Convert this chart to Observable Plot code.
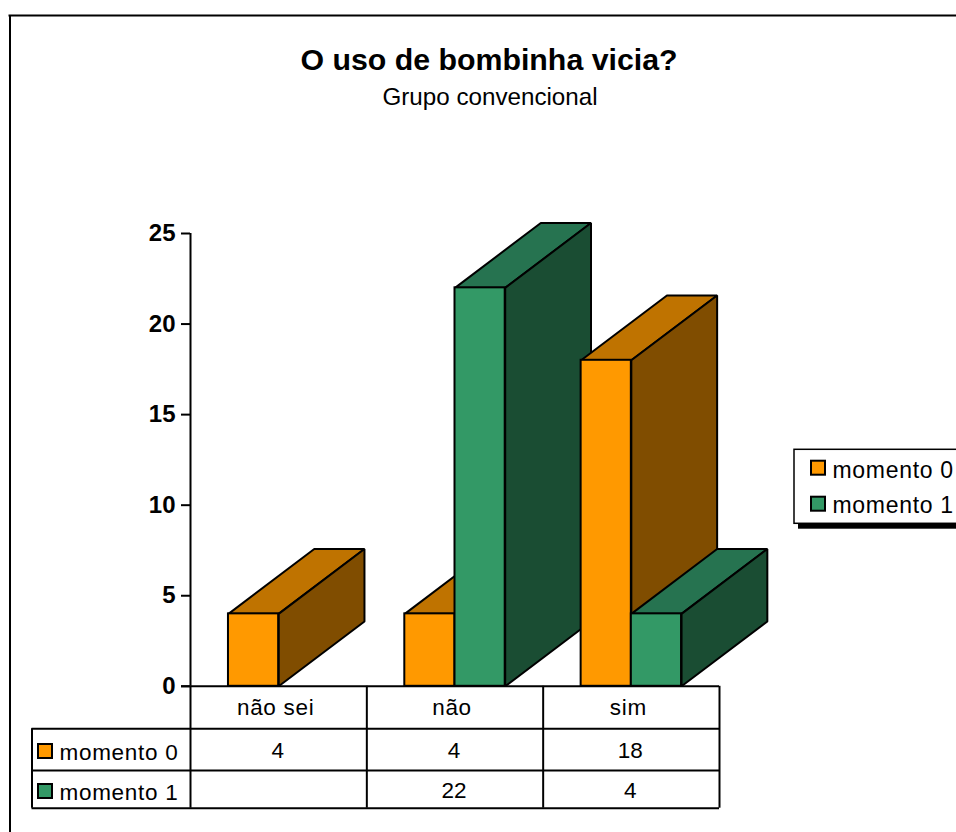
<!DOCTYPE html>
<html lang="pt">
<head>
<meta charset="utf-8">
<title>O uso de bombinha vicia?</title>
<script src="https://cdn.jsdelivr.net/npm/d3@7"></script>
<script src="https://cdn.jsdelivr.net/npm/@observablehq/plot@0.6"></script>
<style>
  html, body { margin: 0; padding: 0; background: #fff; overflow: hidden; }
  #chart svg { display: block; max-width: none; }
  .spaced text { letter-spacing: 0.7px; }
</style>
</head>
<body>
<div id="chart"></div>
<script>
// Survey answers per moment of the conventional group
const categories = ["não sei", "não", "sim"];
const seriesNames = ["momento 0", "momento 1"];
const momento0 = [4, 4, 18];
const momento1 = [null, 22, 4];
const yTicks = [0, 5, 10, 15, 20, 25];

const frontColors = ["#FF9900", "#339966"];
const topColors = ["#BF7300", "#267350"];
const sideColors = ["#804D00", "#1A4D33"];

const W = 956, H = 832;
const margin = {top: 233, right: 237, bottom: 146.2, left: 190};
const unitX = (W - margin.left - margin.right) / categories.length;
const unitY = (H - margin.top - margin.bottom) / 25;

// Layout helpers: page pixels expressed in scale units, for the table and legend furniture
const X = (px) => (px - margin.left) / unitX;
const Y = (px) => (H - margin.bottom - px) / unitY;

// Bar footprint and oblique depth of the 3D extrusion, in scale units
const barWidth = 50.2 / unitX;
const depthX = 85.8 / unitX;
const depthY = 64.8 / unitY;

const ink = "#000";
const font = "Liberation Sans, Arial, sans-serif";

function barMarks(catIndex, seriesIndex, value) {
  if (value == null) return [];
  const x1 = catIndex + 0.5 + (seriesIndex - 1) * barWidth;
  const x2 = x1 + barWidth;
  const topFace = [
    {x: x1, y: value}, {x: x2, y: value},
    {x: x2 + depthX, y: value + depthY}, {x: x1 + depthX, y: value + depthY}
  ];
  const sideFace = [
    {x: x2, y: 0}, {x: x2, y: value},
    {x: x2 + depthX, y: value + depthY}, {x: x2 + depthX, y: depthY}
  ];
  const face = (points, fill) => Plot.line(points, {
    x: "x", y: "y", fill, stroke: ink, strokeWidth: 2, curve: "linear-closed", strokeLinejoin: "miter"
  });
  return [
    face(topFace, topColors[seriesIndex]),
    face(sideFace, sideColors[seriesIndex]),
    Plot.rect([{x1, x2, y1: 0, y2: value}], {
      x1: "x1", x2: "x2", y1: "y1", y2: "y2",
      fill: frontColors[seriesIndex], stroke: ink, strokeWidth: 2
    })
  ];
}

const bars = categories.flatMap((_, i) => [
  ...barMarks(i, 0, momento0[i]),
  ...barMarks(i, 1, momento1[i])
]);

// Data table grid underneath the plot
const tableRows = [728.3, 770, 807.7];
const tableEdges = [1, 2, 3];
const tableGrid = [
  Plot.ruleY([0], {x1: X(181), x2: 3, stroke: ink, strokeWidth: 2}),
  Plot.ruleY(tableRows.map(Y), {x1: X(31.5), x2: 3, stroke: ink, strokeWidth: 2}),
  Plot.ruleX(tableEdges, {y1: 0, y2: Y(807.7), stroke: ink, strokeWidth: 2}),
  Plot.ruleX([0], {y1: 0, y2: Y(807.7), stroke: ink, strokeWidth: 2}),
  Plot.ruleX([X(31.5)], {y1: Y(728.3), y2: Y(807.7), stroke: ink, strokeWidth: 2})
];

const cellText = (rows, y) => Plot.text(rows, {
  x: (_, i) => i + 0.5, y: Y(y), dx: -1,
  text: (d) => (d == null ? "" : String(d)),
  fontSize: 22.5, fill: "#000", fontFamily: font
});

const tableText = [
  Plot.text(categories, {
    x: (_, i) => i + 0.5, y: Y(707), dx: -3, text: (d) => d,
    fontSize: 22.5, fill: "#000", fontFamily: font, className: "spaced"
  }),
  cellText(momento0, 750),
  cellText(momento1, 790),
  Plot.text(seriesNames, {
    x: X(59), y: (_, i) => Y([752, 792][i]), text: (d) => d,
    textAnchor: "start", fontSize: 22.5, fill: "#000", fontFamily: font, className: "spaced"
  })
];

const swatch = (px, py, i) => Plot.rect([i], {
  x1: X(px), x2: X(px + 14), y1: Y(py + 14), y2: Y(py),
  fill: frontColors[i], stroke: ink, strokeWidth: 2
});

// Legend box with its drop shadow, running past the right edge
const legend = [
  Plot.rect([0], {x1: X(798), x2: X(960), y1: Y(528.7), y2: Y(453), fill: "#000"}),
  Plot.rect([0], {x1: X(794), x2: X(960), y1: Y(523.3), y2: Y(449.3), fill: "#fff", stroke: ink, strokeWidth: 1.5}),
  swatch(811, 460.7, 0),
  swatch(811, 496.7, 1),
  Plot.text(seriesNames, {
    x: X(832), y: (_, i) => Y([470, 505][i]), text: (d) => d,
    textAnchor: "start", fontSize: 23, fill: "#000", fontFamily: font, className: "spaced"
  })
];

const titles = [
  Plot.text(["O uso de bombinha vicia?"], {
    x: X(488.5), y: Y(60), text: (d) => d, fontSize: 30.3, fontWeight: "bold", fill: "#000", fontFamily: font
  }),
  Plot.text(["Grupo convencional"], {
    x: X(489.5), y: Y(97), text: (d) => d, fontSize: 24.2, fill: "#000", fontFamily: font
  })
];

// Outer chart border, open towards the right and bottom edges
const border = [
  Plot.ruleX([X(9.5)], {y1: Y(15), y2: Y(840), stroke: ink, strokeWidth: 2}),
  Plot.ruleY([Y(15)], {x1: X(8.5), x2: X(960), stroke: ink, strokeWidth: 2})
];

const chart = Plot.plot({
  width: W,
  height: H,
  marginTop: margin.top,
  marginRight: margin.right,
  marginBottom: margin.bottom,
  marginLeft: margin.left,
  style: {background: "#fff", overflow: "hidden", fontFamily: font},
  x: {domain: [0, categories.length], axis: null},
  y: {domain: [0, 25], axis: null},
  marks: [
    ...border,
    ...titles,
    Plot.ruleX([0], {y1: 0, y2: 25, stroke: ink, strokeWidth: 2}),
    Plot.axisY({
      ticks: yTicks, tickSize: 9, tickPadding: 6, tickFormat: (d) => d,
      label: null, fontSize: 24, fontWeight: "bold", fontFamily: font,
      stroke: ink, strokeWidth: 2, fill: "#000", strokeOpacity: 1, anchor: "left"
    }),
    ...bars,
    ...tableGrid,
    ...tableText,
    swatch(38, 744, 0),
    swatch(38, 784, 1),
    ...legend
  ]
});

document.getElementById("chart").append(chart);
</script>
</body>
</html>
